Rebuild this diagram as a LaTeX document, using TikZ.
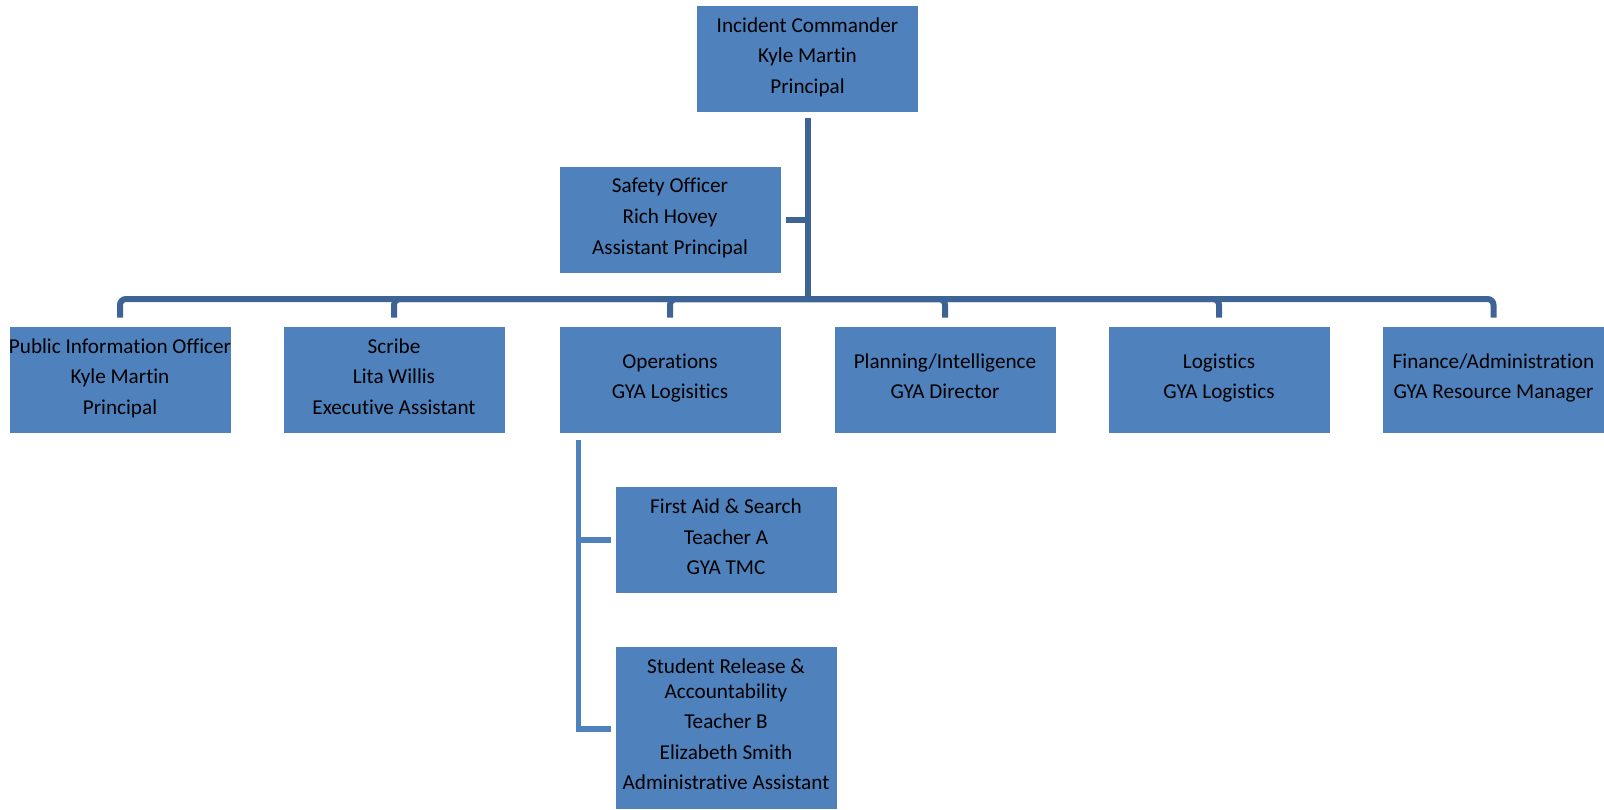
\documentclass[tikz,border=0pt]{standalone}
\usepackage{fontspec}
\setmainfont{Carlito}[Script=Latin, Ligatures={NoCommon,NoRequired,NoContextual}, Contextuals={NoAlternate}]
\usetikzlibrary{positioning}
\definecolor{boxblue}{RGB}{79,129,189}
\definecolor{lineblue}{RGB}{62,100,150}
\newcommand{\boxstrut}{\rule[-3.2pt]{0pt}{16.2pt}}

\begin{document}
\begin{tikzpicture}[x=0.5pt, y=-0.5pt,
  box/.style = {rectangle, fill=boxblue, draw=white, line width=0.3pt, inner sep=0pt,
                minimum width=111pt, minimum height=53.5pt, align=center,
                font=\fontsize{10.6}{15.3}\selectfont,
                execute at begin node=\boxstrut, execute at end node=\boxstrut},
  conn/.style = {draw=lineblue, line width=3pt},
  subconn/.style = {draw=boxblue, line width=2.6pt}]
  \useasboundingbox (0,0) rectangle (1604,809);
  \node (ic)     at (807.5,58.5) [box] {Incident Commander\\Kyle Martin\\Principal};
  \node (safety) at (670,219.5) [box] {Safety Officer\\Rich Hovey\\Assistant Principal};
    \coordinate (bar) at (807,299);
  \node (pio)    at (120,379.5) [box] {Public Information Officer\\Kyle Martin\\Principal};
  \node (scribe) at (394,379.5) [box] {Scribe\\Lita Willis\\Executive Assistant};
  \node (ops)    at (670,379.5) [box] {Operations\\GYA Logisitics};
  \node (plan)   at (945,379.5) [box] {Planning/Intelligence\\GYA Director};
  \node (logi)   at (1219,379.5) [box] {Logistics\\GYA Logistics};
  \node (fin)    at (1493.5,379.5) [box] {Finance/Administration\\GYA Resource Manager};
    \node (aid) at (726,540) [box] {First Aid \& Search\\Teacher A\\GYA TMC};
    \node (release) at (726,727.5) [box, minimum height=81.5pt]
      {Student Release \&\\[-3pt]Accountability\\Teacher B\\Elizabeth Smith\\Administrative Assistant};
  \draw [conn, shorten <=3pt] (ic) -- (ic |- bar);
  \draw [conn, shorten <=2.5pt] (safety) -- (safety -| ic);
  \foreach \n in {pio, scribe, ops, plan, logi, fin}
    \draw [conn, rounded corners=3pt, shorten >=4pt] (ic |- bar) -| (\n);
    \coordinate (opsdrop) at ([xshift=10pt]ops.south west);
  \draw [subconn, shorten <=3.5pt, shorten >=2pt] (opsdrop) |- (aid);
  \draw [subconn, shorten <=3.5pt, shorten >=2pt] (opsdrop) |- (release.west |- 0,729);
\end{tikzpicture}
\end{document}
